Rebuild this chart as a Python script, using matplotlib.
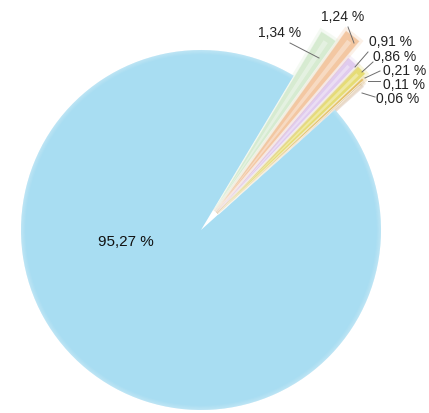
import numpy as np
import matplotlib
matplotlib.use('Agg')
import matplotlib.pyplot as plt
import matplotlib.patheffects as pe
from matplotlib.patches import Wedge

# share of each category (%), counter-clockwise from the small ones
shares = [0.06, 0.11, 0.21, 0.86, 0.91, 1.24, 1.34, 95.27]
colors = ['#c9a384', '#d2b68e', '#e2b660', '#e6dc72', '#e0caee',
          '#f3c6a0', '#d6ebd0', '#a8ddf2']
labels = [f"{v:.2f} %".replace('.', ',') for v in shares]

# image pixel -> data units (pie radius = 180 px, centre at 201,230)
R_PX = 180.0
CX, CY = 201.0, 230.0


def px(x, y):
    return (x - CX) / R_PX, (CY - y) / R_PX


# label text anchor (left edge, centre y) and leader line ends, in px
text_pos = [(376, 99), (383, 85), (383, 71), (373, 57),
            (369, 42), (321, 17), (258, 33)]
line_from = [(375, 97), (380, 81), (380, 71), (373, 62),
             (368, 52), (348, 27), (290, 43)]
line_to = [(362, 93), (368, 81), (365, 78), (362, 72),
           (355, 67), (354, 43), (319, 58)]
radii = [1.06, 1.08, 1.10, 1.13, 1.13, 1.24, 1.16]

fig = plt.figure(figsize=(4.29, 4.13), dpi=100)
ax = fig.add_axes([0, 0, 1, 1])

explode = [0.13] * 7 + [0.0]
wedges, _ = ax.pie(shares, colors=colors, startangle=42, counterclock=True,
                   explode=explode, radius=1.0,
                   wedgeprops=dict(linewidth=0))

# small slices: soft edges plus a pale highlight stripe in the middle
for w, r in zip(wedges[:-1], radii):
    w.set_radius(r)
    w.set_alpha(0.8)
    w.set_path_effects([pe.withStroke(linewidth=4, foreground=w.get_facecolor(),
                                      alpha=0.25), pe.Normal()])
    span = w.theta2 - w.theta1
    mid = 0.5 * (w.theta1 + w.theta2)
    if span > 1.0:
        hl = Wedge(w.center, r * 0.97, mid - 0.18 * span, mid + 0.12 * span,
                   facecolor='white', alpha=0.35, linewidth=0)
        ax.add_patch(hl)
    sep = Wedge(w.center, r, w.theta1, w.theta2, facecolor='none',
                edgecolor='white', alpha=0.5, linewidth=0.6)
    ax.add_patch(sep)

# soft white rim on the big slice
big = wedges[-1]
for k in range(6):
    rim = Wedge(big.center, 1.0 - 0.004 * k, big.theta1, big.theta2,
                width=0.004, facecolor='white', alpha=0.25 - 0.04 * k,
                linewidth=0)
    ax.add_patch(rim)

for lab, tp, lf, lt in zip(labels[:-1], text_pos, line_from, line_to):
    ax.text(*px(*tp), lab, ha='left', va='center', fontsize=10,
            family='Liberation Sans', color='#222222')
    (x0, y0), (x1, y1) = px(*lf), px(*lt)
    ax.plot([x0, x1], [y0, y1], color='#6e6e6e', lw=0.7)

ax.text(*px(98, 242), labels[-1], ha='left', va='center', fontsize=11,
        family='Liberation Sans', color='#111111')

ax.set_xlim(-CX / R_PX, (429 - CX) / R_PX)
ax.set_ylim((CY - 413) / R_PX, CY / R_PX)
ax.set_aspect('auto')
ax.axis('off')

fig.savefig('out.png', dpi=100)
